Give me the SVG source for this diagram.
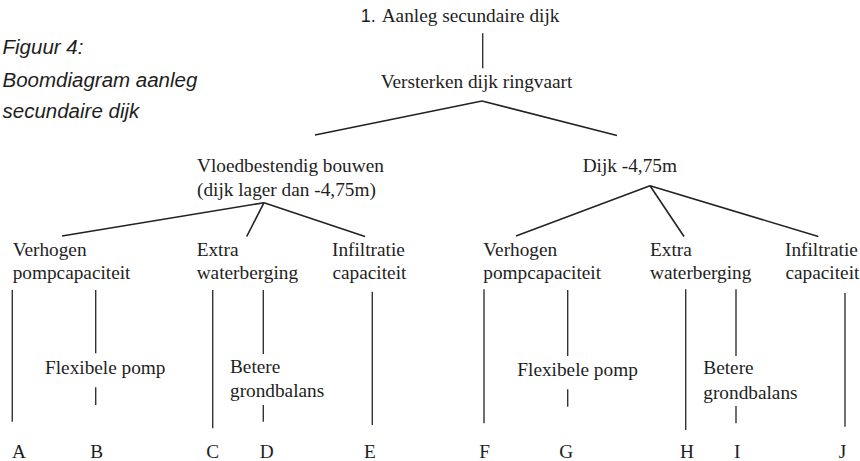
<svg xmlns="http://www.w3.org/2000/svg" width="860" height="461" viewBox="0 0 860 461">
<style>
.t{font-family:'Liberation Serif',Tinos,Times,'Nimbus Roman','DejaVu Serif',serif;font-size:19.3px;fill:#1e1e1e}
.s{font-family:'Liberation Sans',Arial,sans-serif;font-size:18px;fill:#1e1e1e}
.cap{font-family:'Liberation Sans',Arial,sans-serif;font-size:20.5px;font-style:italic;fill:#1e1e1e}
.leaf{text-anchor:middle}
.c line{stroke:#222;stroke-width:1.6;stroke-linecap:butt;fill:none}
.c line.v{stroke:#333;stroke-width:1.4}
</style>
<rect width="860" height="461" fill="#fff"/>
<g id="caption">
<text class="cap" x="2.5" y="54">Figuur 4:</text>
<text class="cap" x="2.5" y="86.5">Boomdiagram aanleg</text>
<text class="cap" x="2.5" y="118">secundaire dijk</text>
</g>
<g class="c" id="connectors">
<line class="v" x1="482.7" y1="33.3" x2="482.7" y2="68.3"/>
<line x1="482" y1="101" x2="315" y2="135"/>
<line x1="482" y1="101" x2="617" y2="135.5"/>
<line x1="264" y1="202.7" x2="62" y2="236"/>
<line x1="264" y1="202.7" x2="246.7" y2="236.5"/>
<line x1="264" y1="202.7" x2="365" y2="236.5"/>
<line x1="650" y1="185.7" x2="516" y2="236"/>
<line x1="650" y1="185.7" x2="684" y2="236.5"/>
<line x1="650" y1="185.7" x2="818.3" y2="236.5"/>
<line class="v" x1="12.3" y1="290" x2="12.3" y2="421.7"/>
<line class="v" x1="95.7" y1="290" x2="95.7" y2="353.3"/>
<line class="v" x1="95.7" y1="387.3" x2="95.7" y2="405"/>
<line class="v" x1="212.7" y1="290" x2="212.7" y2="428.3"/>
<line class="v" x1="263.3" y1="290" x2="263.3" y2="354"/>
<line class="v" x1="263.3" y1="405" x2="263.3" y2="421.7"/>
<line class="v" x1="372.3" y1="291.7" x2="372.3" y2="425"/>
<line class="v" x1="484" y1="289.3" x2="484" y2="423.3"/>
<line class="v" x1="567.7" y1="290" x2="567.7" y2="356"/>
<line class="v" x1="567.7" y1="389.3" x2="567.7" y2="406.7"/>
<line class="v" x1="685.7" y1="289.3" x2="685.7" y2="430"/>
<line class="v" x1="736" y1="289.3" x2="736" y2="356"/>
<line class="v" x1="736" y1="406" x2="736" y2="423.3"/>
<line class="v" x1="845" y1="293" x2="845" y2="426.7"/>
</g>
<g id="root"><text x="360.7" y="22"><tspan class="s">1.</tspan><tspan class="t" x="381.7">Aanleg secundaire dijk</tspan></text></g>
<g id="versterken"><text class="t" x="380.7" y="88">Versterken dijk ringvaart</text></g>
<g id="vloedbestendig"><text class="t" x="197" y="171.5">Vloedbestendig bouwen</text><text class="t" x="197" y="196">(dijk lager dan -4,75m)</text></g>
<g id="dijk"><text class="t" x="582.7" y="171.5">Dijk -4,75m</text></g>
<g id="verhogen1"><text class="t" x="12.7" y="256">Verhogen</text><text class="t" x="12.7" y="279">pompcapaciteit</text></g>
<g id="extra1"><text class="t" x="196.7" y="256">Extra</text><text class="t" x="196.7" y="279">waterberging</text></g>
<g id="infiltratie1"><text class="t" x="332" y="256">Infiltratie</text><text class="t" x="332.5" y="279">capaciteit</text></g>
<g id="verhogen2"><text class="t" x="483.3" y="256">Verhogen</text><text class="t" x="483.3" y="279">pompcapaciteit</text></g>
<g id="extra2"><text class="t" x="650" y="256">Extra</text><text class="t" x="650" y="279">waterberging</text></g>
<g id="infiltratie2"><text class="t" x="785" y="256">Infiltratie</text><text class="t" x="785.5" y="279">capaciteit</text></g>
<g id="flex1"><text class="t" x="45" y="374">Flexibele pomp</text></g>
<g id="betere1"><text class="t" x="230" y="372.7">Betere</text><text class="t" x="230" y="396.7">grondbalans</text></g>
<g id="flex2"><text class="t" x="517.3" y="376">Flexibele pomp</text></g>
<g id="betere2"><text class="t" x="703.3" y="374">Betere</text><text class="t" x="703.3" y="398.7">grondbalans</text></g>
<g id="A"><text class="t leaf" x="19" y="458">A</text></g>
<g id="B"><text class="t leaf" x="96.7" y="458">B</text></g>
<g id="C"><text class="t leaf" x="212.7" y="458">C</text></g>
<g id="D"><text class="t leaf" x="266.7" y="458">D</text></g>
<g id="E"><text class="t leaf" x="370" y="458">E</text></g>
<g id="F"><text class="t leaf" x="484.7" y="458">F</text></g>
<g id="G"><text class="t leaf" x="566.3" y="458">G</text></g>
<g id="H"><text class="t leaf" x="687" y="458">H</text></g>
<g id="I"><text class="t leaf" x="737.3" y="458">I</text></g>
<g id="J"><text class="t leaf" x="842.5" y="458">J</text></g>
</svg>
